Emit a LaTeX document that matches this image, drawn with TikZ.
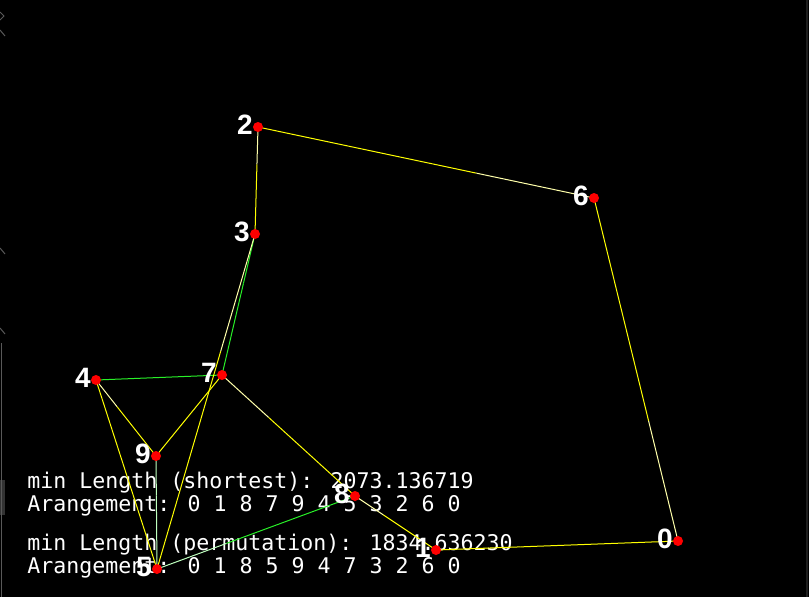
\documentclass[tikz,border=0pt]{standalone}
\usepackage{fontspec}
\usetikzlibrary{calc}
\newfontfamily\labfont{Liberation Sans}
\newfontfamily\infofont{DejaVu Sans Mono}
\definecolor{ylw}{RGB}{255,255,0}
\definecolor{ylwpale}{RGB}{255,255,170}
\definecolor{grn}{RGB}{40,240,40}
\definecolor{grnpale}{RGB}{190,255,190}
\definecolor{ptred}{RGB}{255,0,0}
\newcommand\tedge[4]{%
  \draw[edgeline,#3] (#1) -- ($(#1)!0.65!(#2)$);
  \draw[edgeline,#4] ($(#1)!0.65!(#2)$) -- (#2);}
\begin{document}
\begin{tikzpicture}[x=0.75pt,y=-0.75pt,
  dot/.style={circle,fill=ptred,inner sep=0pt,minimum size=7.5pt},
  lab/.style={text=white,inner sep=0pt,font=\labfont\bfseries\fontsize{21}{21}\selectfont},
  info/.style={text=white,anchor=base west,inner sep=0pt,font=\infofont\fontsize{16.2}{16.2}\selectfont},
  edgeline/.style={line width=0.75pt},
  artifact/.style={draw=black!65!white,line width=0.75pt}]
\fill[black] (0,0) rectangle (809,597);
\useasboundingbox (0,0) rectangle (809,597);
% screenshot edge artifacts
\fill[black!80!white] (0,480) rectangle (5,515);
\draw[artifact] (1.5,343) -- (1.5,597);
\draw[artifact] (0,12) -- (4,16) -- (0,20);
\draw[artifact] (0,30) -- (5,36);
\draw[artifact] (0,248) -- (5,254);
\draw[artifact] (0,328) -- (5,334);
\draw[draw=black!88!white,line width=1.5pt] (806.5,0) -- (806.5,597);
% texts
\node[info] (t1) at (27,488.5) {min Length (shortest): 2073.136719};
\node[info] (t2) at (27,511) {Arangement: 0 1 8 7 9 4 5 3 2 6 0};
\node[info] (t3) at (27,550.5) {min Length (permutation): 1834.636230};
\node[info] (t4) at (27,573) {Arangement: 0 1 8 5 9 4 7 3 2 6 0};
% points
\coordinate (p0) at (678,541);
\coordinate (p1) at (436,550);
\coordinate (p2) at (258,127);
\coordinate (p3) at (255,234);
\coordinate (p4) at (96,380);
\coordinate (p5) at (157,569);
\coordinate (p6) at (594,198);
\coordinate (p7) at (222,375);
\coordinate (p8) at (355,496);
\coordinate (p9) at (156,456);
% permutation tour (green where it differs)
\tedge{p8}{p5}{grn}{grnpale}
\tedge{p5}{p9}{grnpale}{grnpale}
\tedge{p4}{p7}{grn}{grn}
\tedge{p7}{p3}{grn}{grn}
% shortest tour
\tedge{p0}{p1}{ylw}{ylw}
\tedge{p1}{p8}{ylw}{ylwpale}
\tedge{p8}{p7}{ylw}{ylwpale}
\tedge{p7}{p9}{ylw}{ylw}
\tedge{p9}{p4}{ylw}{ylwpale}
\tedge{p4}{p5}{ylw}{ylw}
\tedge{p5}{p3}{ylw}{ylwpale}
\tedge{p3}{p2}{ylw}{ylwpale}
\tedge{p2}{p6}{ylw}{ylwpale}
\tedge{p6}{p0}{ylw}{ylwpale}
% labels
\foreach \i in {0,...,9} {
  \node[lab] (l\i) at ($(p\i)+(-13,-2)$) {\i};
}
% dots
\foreach \i in {0,...,9} {
  \node[dot] (n\i) at (p\i) {};
}
\end{tikzpicture}
\end{document}
